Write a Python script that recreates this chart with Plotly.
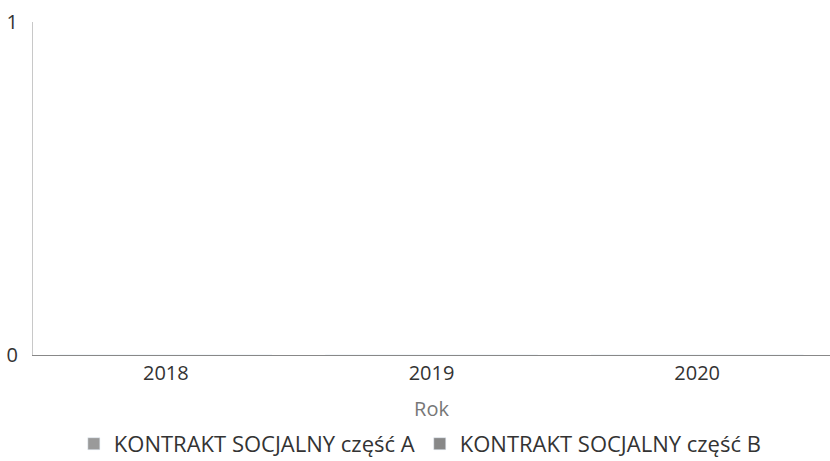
import plotly.graph_objects as go

years = ["2018", "2019", "2020"]
series_a = [0, 0, 0]
series_b = [0, 0, 0]
name_a = "KONTRAKT SOCJALNY część A"
name_b = "KONTRAKT SOCJALNY część B"

fig = go.Figure()
fig.add_trace(go.Bar(x=years, y=series_a, name=name_a, marker_color="#9a9a9a"))
fig.add_trace(go.Bar(x=years, y=series_b, name=name_b, marker_color="#888888"))

font_family = "Open Sans, Lato, sans-serif"
fig.update_layout(
    width=830, height=461,
    margin=dict(l=33, r=0, t=22, b=106, autoexpand=False),
    paper_bgcolor="white", plot_bgcolor="white",
    font=dict(family=font_family, size=20, color="#333"),
    barmode="group",
    showlegend=True,
    legend=dict(orientation="h", x=0.486, xanchor="center", y=-0.267, yanchor="middle",
                font=dict(size=22, color="#333"), itemwidth=30, tracegroupgap=0),
    xaxis=dict(type="category", showgrid=False, showline=True, linecolor="#888", linewidth=1,
               ticks="", automargin=False, tickfont=dict(size=20, color="#333"),
               title=dict(text="Rok", font=dict(size=20, color="#777"), standoff=16)),
    yaxis=dict(range=[0, 1], tickvals=[0, 1], showgrid=True, gridcolor="#e3e3e3",
               showline=True, linecolor="#c8c8c8", zeroline=False, ticks="",
               automargin=False, ticklabelstandoff=10,
               tickfont=dict(size=20, color="#333")),
)
fig.write_html("out.html", config={"displayModeBar": False},
               post_script="document.body.style.margin='0';")
